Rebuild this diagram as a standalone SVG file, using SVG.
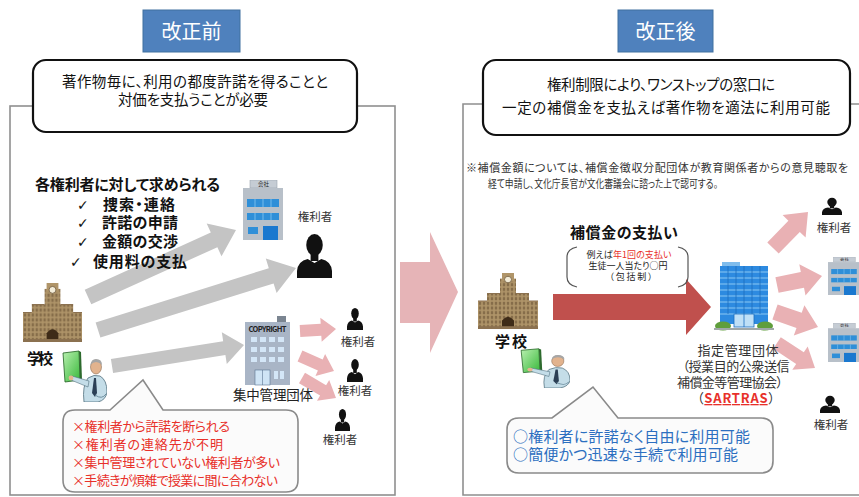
<svg xmlns="http://www.w3.org/2000/svg" width="859" height="497" viewBox="0 0 859 497">
<defs>
<style>
 text { font-family: 'Noto Sans CJK JP', 'Noto Sans', sans-serif; font-feature-settings: 'palt'; fill: #222; }
 .frame { fill: none; stroke: #8f8f8f; stroke-width: 1.6; }
 .tag { fill: #4f81bd; stroke: #41709f; stroke-width: 1; }
 .tagtext { fill: #fff; font-size: 20px; text-anchor: middle; }
 .bubble { fill: #fff; stroke: #111; stroke-width: 2.2; }
 .btext { font-size: 14.5px; text-anchor: middle; fill: #111; }
 .callout { fill: #fbfbfb; stroke: #8a8a8a; stroke-width: 1.6; }
 .grey { fill: #c4c4c4; }
 .pink { fill: #e9b1b4; }
 .bold { font-weight: 700; fill: #111; font-size: 15px; }
 .chk { font-family: 'DejaVu Sans', sans-serif; font-size: 14px; fill: #111; }
 .lab { font-size: 11.5px; text-anchor: middle; fill: #333; }
 .red { fill: #e8302a; font-size: 13px; }
 .blue { fill: #2c6fc0; font-size: 15px; }
 .note { font-size: 11px; fill: #333; }
 .org { font-size: 13px; text-anchor: middle; fill: #333; }
 .brk { fill: none; stroke: #555; stroke-width: 1.2; }
 .sil { fill: #111; }
</style>
<pattern id="winBrown" width="4" height="5" patternUnits="userSpaceOnUse">
  <rect width="4" height="5" fill="#b09569"/>
  <rect x="0.8" y="0.8" width="2.4" height="3.4" fill="#866d4a"/>
</pattern>
<linearGradient id="boardFill" x1="0" y1="0" x2="1" y2="1">
  <stop offset="0" stop-color="#b9f0b0"/>
  <stop offset="1" stop-color="#38b83a"/>
</linearGradient>
<!-- brick school building with clock tower -->
<symbol id="school" viewBox="0 0 60 60" preserveAspectRatio="none">
  <rect x="0" y="30" width="60" height="30" fill="url(#winBrown)"/>
  <rect x="9" y="22" width="42" height="38" fill="url(#winBrown)"/>
  <rect x="22" y="6" width="16" height="54" fill="url(#winBrown)"/>
  <rect x="24" y="0" width="12" height="9" fill="#b09569"/>
  <circle cx="30" cy="7" r="3.5" fill="#f3ecd8" stroke="#6b5638" stroke-width="0.8"/>
  <path d="M0 30 H9 M9 22 H22 M38 22 H51 M51 30 H60" stroke="#8b7150" stroke-width="1.2"/>
  <path d="M24 60 V51 Q30 43 36 51 V60 Z" fill="#3e2b18"/>
  <rect x="0" y="57" width="60" height="3" fill="#8b7150"/>
</symbol>
<!-- office block with a small sign on the roof -->
<symbol id="office" viewBox="0 0 40 60" preserveAspectRatio="none">
  <rect x="7" y="0" width="27" height="8" fill="#c5ccd4" stroke="#9aa3ad" stroke-width="0.6"/>
  <text x="20.5" y="6.3" font-size="5.5" text-anchor="middle" fill="#555">会社</text>
  <rect x="0" y="8" width="40" height="52" fill="#b8c0c9"/>
  <rect x="4" y="19" width="32" height="8" fill="#2f8fd8"/>
  <rect x="4" y="33" width="32" height="7" fill="#2f8fd8"/>
  <path d="M12 19 V27 M20 19 V27 M28 19 V27 M12 33 V40 M20 33 V40 M28 33 V40" stroke="#86c6f2" stroke-width="0.8"/>
  <rect x="5" y="47" width="10" height="7" fill="#2f8fd8"/>
  <rect x="20" y="46" width="15" height="14" fill="#1a78cf"/>
</symbol>
<!-- rights-holder silhouette -->
<symbol id="person" viewBox="0 0 36 46" preserveAspectRatio="none">
  <ellipse class="sil" cx="18" cy="13" rx="8.5" ry="11"/>
  <rect class="sil" x="14" y="20" width="8" height="9"/>
  <path class="sil" d="M0 46 V39 Q1 29 11 27 L18 31 L25 27 Q35 29 36 39 V46 Z"/>
</symbol>
<!-- teacher pointing at a green board -->
<symbol id="teacher" viewBox="0 0 45 52" preserveAspectRatio="none">
  <path d="M1 3 L17 1 L18 30 L3 32 Z" fill="url(#boardFill)" stroke="#1f5f1f" stroke-width="0.8"/>
  <path d="M17 1 L19 2 L20 30 L18 30 Z" fill="#2d6a2d"/>
  <path d="M22 52 Q20 36 26 28 Q32 24 38 26 Q45 30 45 42 Q44 50 36 52 Z" fill="#c4dde8" stroke="#52707e" stroke-width="0.8"/>
  <path d="M27 31 L10 26 L9 30 L26 37 Z" fill="#c4dde8" stroke="#52707e" stroke-width="0.6"/>
  <circle cx="9" cy="28" r="2.4" fill="#e5b48f"/>
  <path d="M32 28 L30 43 L33 47 L35 43 L34 28 Z" fill="#2b3f55"/>
  <path d="M33 45 Q40 50 44 44" fill="none" stroke="#6e8fa0" stroke-width="1"/>
  <ellipse cx="34" cy="17" rx="5.5" ry="7" fill="#e2b38e" stroke="#7a5a40" stroke-width="0.5"/>
  <path d="M28.5 15 Q29 9 34 9 Q40 9 40 15 Q37 12 34 12 Q31 12 28.5 15 Z" fill="#a6a6a6"/>
</symbol>
</defs>

<rect width="859" height="497" fill="#fff"/>

<!-- panel frames -->
<rect class="frame" x="10" y="106" width="385" height="389"/>
<path class="frame" d="M860 104 H463 V495 H860"/>

<!-- panel tags -->
<g id="tag-before">
  <rect class="tag" x="143" y="10" width="97" height="42"/>
  <text class="tagtext" x="191.5" y="39">改正前</text>
</g>
<g id="tag-after">
  <rect class="tag" x="618" y="10" width="95" height="42"/>
  <text class="tagtext" x="665.5" y="39">改正後</text>
</g>

<!-- headline boxes -->
<g id="summary-before">
  <rect class="bubble" x="33" y="60" width="324" height="72" rx="13"/>
  <text class="btext" x="195" y="87" textLength="266">著作物毎に、利用の都度許諾を得ることと</text>
  <text class="btext" x="193" y="105" textLength="150">対価を支払うことが必要</text>
</g>
<g id="summary-after">
  <rect class="bubble" x="483" y="60" width="367" height="75" rx="13"/>
  <text class="btext" x="661" y="90" font-size="15" textLength="228">権利制限により、ワンストップの窓口に</text>
  <text class="btext" x="666" y="113" font-size="15" textLength="328">一定の補償金を支払えば著作物を適法に利用可能</text>
</g>

<!-- transition arrow between panels -->
<polygon id="transition" fill="#e6b4b7" points="400,262 430,262 430,232 458,292 430,353 430,323 400,323"/>

<!-- connectors -->
<g id="connectors">
  <polygon class="grey" points="91.3,304.3 217.4,247.2 221.5,256.3 236,230 206.7,223.5 210.8,232.6 84.7,289.7"/>
  <polygon class="grey" points="100.4,337.6 273.6,283.4 276.6,293 296,268 265.8,258.6 268.8,268.2 95.6,322.4"/>
  <polygon class="grey" points="113.1,372.9 225.4,355 226.8,363.9 244,345 221.8,332.3 223.2,341.2 110.9,359.1"/>
  <polygon class="pink" points="300.3,337 321.3,335.8 321.7,341.8 336,329 320.3,317.8 320.7,323.8 299.7,325"/>
  <polygon class="pink" points="297.6,361.5 317.9,370.5 315.5,376 334,371 325.1,354 322.7,359.5 302.4,350.5"/>
  <polygon class="pink" points="299,383.2 320.1,395.6 317,400.7 336,398 329.2,380.1 326.1,385.2 305,372.8"/>
  <polygon fill="#c0504d" points="553,294 686,294 686,279 711,307 686,335 686,320 553,320"/>
  <polygon class="pink" points="778.7,253.6 799.8,231.9 805.6,237.5 808,212 782.6,215.1 788.4,220.7 767.3,242.4"/>
  <polygon class="pink" points="778.6,292.8 804,287.7 805.5,295.6 822,276 799.3,264.2 800.8,272.1 775.4,277.2"/>
  <polygon class="pink" points="772.4,319.6 796.5,328 793.8,335.5 818,327 804.4,305.3 801.7,312.8 777.6,304.4"/>
  <polygon class="pink" points="773.2,348.8 796.2,363.9 792.3,369.8 815,368 807.7,346.4 803.8,352.3 780.8,337.2"/>
</g>

<!-- before: requirements list -->
<g id="requirements">
  <text class="bold" x="127.5" y="190" text-anchor="middle" textLength="185">各権利者に対して求められる</text>
  <text class="chk" x="77" y="210">✓</text>
  <text class="bold" x="103" y="210" textLength="72">捜索・連絡</text>
  <text class="chk" x="77" y="228">✓</text>
  <text class="bold" x="102" y="228" textLength="76">許諾の申請</text>
  <text class="chk" x="77" y="247">✓</text>
  <text class="bold" x="102" y="247" textLength="76">金額の交渉</text>
  <text class="chk" x="70" y="267">✓</text>
  <text class="bold" x="93" y="267" textLength="94">使用料の支払</text>
</g>

<!-- before: school -->
<g id="school-before">
  <use href="#school" x="23" y="283" width="59" height="59"/>
  <text class="bold" x="27" y="364" font-size="13" textLength="26">学校</text>
  <use href="#teacher" x="62" y="350" width="45" height="52"/>
</g>

<!-- before: individual rights holders -->
<g id="company-holder">
  <use href="#office" x="243" y="180" width="40" height="60"/>
</g>
<g id="holder-main">
  <text class="lab" x="315" y="221" font-size="14">権利者</text>
  <use href="#person" x="297" y="232" width="35" height="46"/>
</g>

<!-- before: collective management organisation -->
<g id="collective-org">
  <rect x="277" y="316" width="9" height="7" fill="#7b8591"/>
  <rect x="245" y="322" width="45" height="63" fill="#a9b5c6"/>
  <text x="267.5" y="332" font-family="'Liberation Sans', sans-serif" font-size="7.5" font-weight="700" text-anchor="middle" fill="#3a5a8a" textLength="38">COPYRIGHT</text>
  <g fill="#d4e6f7">
    <rect x="251" y="337" width="6" height="5"/><rect x="260" y="337" width="6" height="5"/><rect x="269" y="337" width="6" height="5"/><rect x="278" y="337" width="6" height="5"/>
    <rect x="251" y="347" width="6" height="5"/><rect x="260" y="347" width="6" height="5"/><rect x="269" y="347" width="6" height="5"/><rect x="278" y="347" width="6" height="5"/>
    <rect x="251" y="357" width="6" height="5"/><rect x="260" y="357" width="6" height="5"/><rect x="269" y="357" width="6" height="5"/><rect x="278" y="357" width="6" height="5"/>
  </g>
  <rect x="255" y="370" width="15" height="15" fill="#cfe4f5" stroke="#5a7390" stroke-width="0.6"/>
  <line x1="262.5" y1="370" x2="262.5" y2="385" stroke="#5a7390" stroke-width="0.6"/>
  <rect x="274" y="371" width="4" height="8" fill="#d4e6f7"/>
  <rect x="280" y="371" width="4" height="8" fill="#d4e6f7"/>
  <text x="273" y="400" font-size="13.5" text-anchor="middle" fill="#333" textLength="80">集中管理団体</text>
</g>
<g id="holder-a">
  <use href="#person" x="347" y="307" width="16" height="23"/>
  <text class="lab" x="358" y="346">権利者</text>
</g>
<g id="holder-b">
  <use href="#person" x="347" y="358" width="16" height="24"/>
  <text class="lab" x="355" y="395">権利者</text>
</g>
<g id="holder-c">
  <use href="#person" x="335" y="408" width="15" height="23"/>
  <text class="lab" x="340" y="444">権利者</text>
</g>

<!-- before: problems -->
<g id="problems">
  <path class="callout" d="M75 410 H110 L143 380 L163 410 H286 Q298 410 298 422 V480 Q298 492 286 492 H75 Q63 492 63 480 V422 Q63 410 75 410 Z"/>
  <text class="red" x="72" y="431" textLength="158">×権利者から許諾を断られる</text>
  <text class="red" x="72" y="449" textLength="151">×権利者の連絡先が不明</text>
  <text class="red" x="72" y="467" textLength="208">×集中管理されていない権利者が多い</text>
  <text class="red" x="72" y="485" textLength="206">×手続きが煩雑で授業に間に合わない</text>
</g>

<!-- after: note on the compensation amount -->
<g id="note">
  <text class="note" x="466" y="172" textLength="382">※補償金額については、補償金徴収分配団体が教育関係者からの意見聴取を</text>
  <text class="note" x="488" y="188" textLength="230" lengthAdjust="spacingAndGlyphs">経て申請し、文化庁長官が文化審議会に諮った上で認可する。</text>
</g>

<!-- after: payment label -->
<g id="payment">
  <text class="bold" x="624" y="238" font-size="15.5" text-anchor="middle" textLength="108">補償金の支払い</text>
  <path class="brk" d="M577 247 Q567 249 567 257 V277 Q567 285 577 287"/>
  <path class="brk" d="M678 247 Q688 249 688 257 V277 Q688 285 678 287"/>
  <text x="629" y="258" font-size="9" text-anchor="middle" textLength="85">例えば<tspan fill="#e8302a">年1回の支払い</tspan></text>
  <text x="628" y="269" font-size="9" text-anchor="middle" fill="#e8302a" textLength="79">生徒一人当たり○円</text>
  <text x="631" y="280" font-size="9" text-anchor="middle" fill="#e8302a" textLength="43">（包括制）</text>
</g>

<!-- after: school -->
<g id="school-after">
  <use href="#school" x="478" y="273" width="60" height="56"/>
  <text class="bold" x="495" y="347" font-size="14" textLength="32">学校</text>
  <use href="#teacher" x="520" y="348" width="50" height="40"/>
</g>

<!-- after: designated organisation -->
<g id="sartras">
  <rect x="722" y="262" width="18" height="5" fill="#7fbcec"/>
  <rect x="720" y="266" width="48" height="58" fill="#2d8ae0"/>
  <path d="M720 272 H768 M720 278 H768 M720 284 H768 M720 290 H768 M720 296 H768 M720 302 H768 M720 308 H768 M720 314 H768" stroke="#8cc8f3" stroke-width="1"/>
  <path d="M728 266 V314 M736 266 V314 M744 266 V314 M752 266 V314 M760 266 V314" stroke="#1c6cbd" stroke-width="0.8"/>
  <rect x="734" y="314" width="20" height="13" fill="#bfe0f7" stroke="#1d6fc0" stroke-width="0.8"/>
  <line x1="744" y1="314" x2="744" y2="327" stroke="#1d6fc0" stroke-width="0.8"/>
  <ellipse cx="723" cy="326" rx="8" ry="4.5" fill="#5f9e3c"/>
  <ellipse cx="765" cy="326" rx="8" ry="4.5" fill="#5f9e3c"/>
  <rect x="714" y="328" width="60" height="2" fill="#a0a8a8"/>
  <text class="org" x="738" y="355" textLength="81">指定管理団体</text>
  <text class="org" x="736" y="371" textLength="107">（授業目的公衆送信</text>
  <text class="org" x="730" y="387" textLength="106">補償金等管理協会）</text>
  <text class="org" x="736" y="403" textLength="78">（<tspan fill="#e8302a" font-weight="700" style="text-decoration:underline">SARTRAS</tspan>）</text>
</g>

<!-- after: recipients -->
<g id="recipient-1">
  <use href="#person" x="822" y="197" width="20" height="18"/>
  <text class="lab" x="834" y="232" font-size="12">権利者</text>
</g>
<g id="recipient-2">
  <use href="#office" x="828" y="257" width="32" height="38"/>
</g>
<g id="recipient-3">
  <use href="#office" x="828" y="323" width="32" height="39"/>
</g>
<g id="recipient-4">
  <use href="#person" x="820" y="395" width="20" height="18"/>
  <text class="lab" x="831" y="429" font-size="12">権利者</text>
</g>

<!-- after: benefits -->
<g id="benefits">
  <path class="callout" d="M519 418 H552 L593 387 L618 418 H761 Q773 418 773 430 V461 Q773 473 761 473 H519 Q507 473 507 461 V430 Q507 418 519 418 Z"/>
  <text class="blue" x="513" y="442" textLength="237">○権利者に許諾なく自由に利用可能</text>
  <text class="blue" x="513" y="460" textLength="225">○簡便かつ迅速な手続で利用可能</text>
</g>
</svg>
